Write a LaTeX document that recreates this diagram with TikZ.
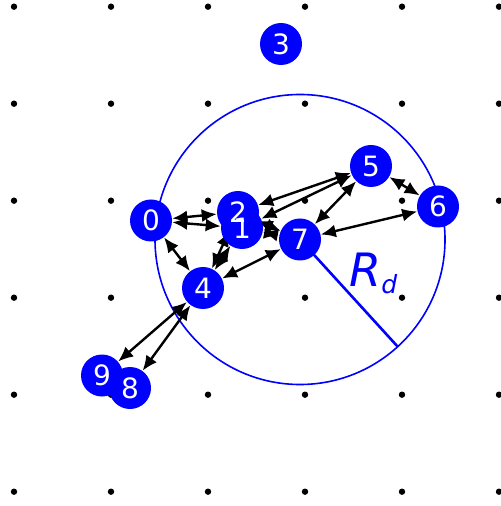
\documentclass[tikz,border=0pt]{standalone}
\usepackage{fontspec}
\setmainfont{DejaVu Sans}
\usetikzlibrary{arrows.meta}
\pgfdeclarelayer{back}
\pgfdeclarelayer{edges}
\pgfdeclarelayer{top}
\pgfsetlayers{back,edges,main,top}
\begin{document}
\begin{tikzpicture}[x=0.5pt,y=-0.5pt,
  vtx/.style={circle,fill=blue,minimum size=21pt,inner sep=0pt},
  vlbl/.style={text=white,inner sep=0pt,font=\fontsize{14}{14}\selectfont},
  gdot/.style={circle,fill=black,minimum size=3.2pt,inner sep=0pt},
  link/.style={{Latex[length=7.5pt,width=6.5pt]}-{Latex[length=7.5pt,width=6.5pt]},line width=1.2pt,black}]
\useasboundingbox (0,0) rectangle (500,506);
% vertices
\node[vtx] (n0) at (151,220.5) {};
\node[vtx] (n1) at (242,228) {};
\node[vtx] (n2) at (238,212) {};
\node[vtx] (n3) at (281,44) {};
\node[vtx] (n4) at (203,288) {};
\node[vtx] (n5) at (371,166) {};
\node[vtx] (n6) at (438,206.5) {};
\node[vtx] (n7) at (300,239.5) {};
\node[vtx] (n9) at (102,375.5) {};
\node[vtx] (n8) at (130,388) {};
\begin{pgfonlayer}{top}
\foreach \k in {0,...,9} \node[vlbl] at (n\k) {\k};
\end{pgfonlayer}
\begin{pgfonlayer}{back}
\foreach \i in {0,...,5} \foreach \j in {0,...,5}
  \node[gdot] (g\i\j) at ({14+97*\i},{6.7+97*\j}) {};
\draw[blue,line width=0.8pt] (n7.center) circle [radius=145];
\coordinate (rd) at (398,347);
\draw[blue,line width=1.3pt] (n7.center) -- (rd);
\end{pgfonlayer}
\node[blue,anchor=base west,inner sep=0pt] (rlabel) at (349,287)
  {\fontsize{23}{23}\selectfont\itshape R\raisebox{-3.5pt}{\fontsize{12.5}{12.5}\selectfont d}};
\begin{pgfonlayer}{edges}
\draw[link] (n0) -- (n2);
\draw[link] (n0) -- (n1);
\draw[link] (n0) -- (n4);
\draw[link] (n1) -- (n4);
\draw[link] (n2) -- (n4);
\draw[link] (n5) -- (n2);
\draw[link] (n5) -- (n1);
\draw[link] (n5) -- (n7);
\draw[link] (n5) -- (n6);
\draw[link] (n6) -- (n7);
\draw[link] (n7) -- (n4);
\draw[link] (n7) -- (n1);
\draw[link] (n7) -- (n2);
\draw[link] (n4) -- (n9);
\draw[link] (n4) -- (n8);
\end{pgfonlayer}
\end{tikzpicture}
\end{document}
